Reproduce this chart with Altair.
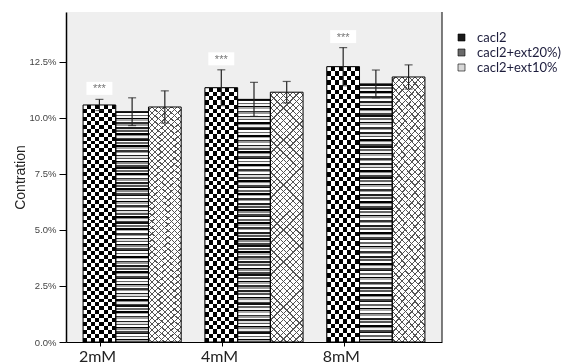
import altair as alt
import pandas as pd

# ---------------- data ----------------
groups = ["2mM", "4mM", "8mM"]
series = ["cacl2", "cacl2+ext20%)", "cacl2+ext10%"]
cacl2_vals = [10.58, 11.35, 12.29]
cacl2_err = [0.25, 0.80, 0.85]
ext20_vals = [10.28, 10.83, 11.52]
ext20_err = [0.62, 0.76, 0.62]
ext10_vals = [10.49, 11.15, 11.83]
ext10_err = [0.72, 0.48, 0.54]
star_labels = ["***", "***", "***"]
y_ticks = [0, 2.5, 5, 7.5, 10, 12.5]

rows = []
for s, vals, errs in zip(series, [cacl2_vals, ext20_vals, ext10_vals],
                         [cacl2_err, ext20_err, ext10_err]):
    for g, v, e in zip(groups, vals, errs):
        rows.append({"dose": g, "series": s, "value": v, "lo": v - e, "hi": v + e})
df = pd.DataFrame(rows)
stars = pd.DataFrame({
    "dose": groups,
    "series": [series[0]] * 3,
    "hi": [v + e for v, e in zip(cacl2_vals, cacl2_err)],
    "label": star_labels,
})

# ---------------- pattern fills (gradients) ----------------
CLEAR = "rgba(255,255,255,0)"

def band_stops(colors, n):
    st = []
    for i in range(n):
        c = colors[i % len(colors)]
        st.append(alt.GradientStop(offset=i / n, color=c))
        st.append(alt.GradientStop(offset=(i + 1) / n, color=c))
    return st

# checkerboard = vertical stripes XOR horizontal stripes (difference blend)
grad_vert = alt.LinearGradient(gradient="linear", stops=band_stops(["black", "white"], 8),
                               x1=0, y1=0, x2=1, y2=0)
grad_horz_diff = alt.LinearGradient(gradient="linear", stops=band_stops(["white", CLEAR], 60),
                                    x1=0, y1=0, x2=0, y2=1)
# irregular thin horizontal lines
grad_lines = alt.LinearGradient(
    gradient="linear",
    stops=band_stops(["#111", "#fff", "#666", "#f4f4f4", "#000", "#aaa", "#fff", "#333",
                      "#999", "#fff", "#222", "#ddd", "#555", "#fff", "#000", "#888",
                      "#eee", "#444"], 150),
    x1=0, y1=0, x2=0, y2=1)

# diagonal lattice
w_b, h_b = 32.7, 250.0
s_k = (w_b + h_b) / (w_b ** 2 + h_b ** 2)
P = 44
e = 0.6 / (w_b + h_b)

def diag_stops(color):
    st = [alt.GradientStop(offset=0, color=CLEAR)]
    for k in range(P):
        c = (k + 0.5) / P
        st += [alt.GradientStop(offset=c - e, color=CLEAR),
               alt.GradientStop(offset=c - e, color=color),
               alt.GradientStop(offset=c + e, color=color),
               alt.GradientStop(offset=c + e, color=CLEAR)]
    st.append(alt.GradientStop(offset=1, color=CLEAR))
    return st

grad_d1 = alt.LinearGradient(gradient="linear", stops=diag_stops("#555"),
                             x1=0, y1=1, x2=s_k * w_b, y2=1 - s_k * h_b)
grad_d2 = alt.LinearGradient(gradient="linear", stops=diag_stops("#555"),
                             x1=0, y1=0, x2=s_k * w_b, y2=s_k * h_b)

# ---------------- encodings ----------------
x_enc = alt.X("dose:N",
              scale=alt.Scale(domain=groups, paddingInner=0.195, paddingOuter=0.14),
              axis=alt.Axis(title=None, labelAngle=0, tickOffset=-32, labelOffset=-3,
                            domainColor="black", domainWidth=1, tickColor="black",
                            tickSize=4, labelFont="Lato", labelFontSize=16,
                            labelColor="#222", labelPadding=2))
xo_enc = alt.XOffset("series:N", scale=alt.Scale(domain=series, paddingInner=0, paddingOuter=0))
y_scale = alt.Scale(domain=[0, 14.73], nice=False, zero=True)
y_enc = alt.Y("value:Q", scale=y_scale,
              axis=alt.Axis(values=y_ticks, labelExpr="format(datum.value, '.1f') + '%'",
                            grid=False, domainColor="black", domainWidth=1.5,
                            tickColor="black", tickSize=7, labelFont="Liberation Sans",
                            labelFontSize=9.5, labelColor="#444", labelPadding=3,
                            title="Contration", titleFont="Liberation Sans",
                            titleFontSize=14, titleFontWeight="normal",
                            titleColor="#222", titlePadding=2))

base = alt.Chart(df)

legend_layer = base.mark_bar().encode(
    x=x_enc, xOffset=xo_enc, y=y_enc,
    color=alt.Color("series:N",
                    scale=alt.Scale(domain=series, range=["#1a1a1a", "#6a6a6a", "#d8d8d8"]),
                    legend=alt.Legend(orient="none", legendX=389, legendY=19, title=None,
                                      symbolType="square", symbolSize=49,
                                      symbolStrokeColor="black", symbolStrokeWidth=0.6,
                                      labelFont="Lato", labelFontSize=13,
                                      labelColor="#1c1c3c", rowPadding=1,
                                      labelOffset=9, padding=0, labelLimit=300,
                                      labelExpr="datum.label == 'cacl2' ? '\u00a0\u00a0\u00a0\u00a0cacl2' : datum.label")),
)

def series_bar(name, fill, **kw):
    return base.transform_filter(alt.datum.series == name).mark_bar(fill=fill, **kw).encode(
        x=x_enc, xOffset=xo_enc, y=y_enc)

checker_a = series_bar(series[0], grad_vert)
checker_b = series_bar(series[0], grad_horz_diff, blend="difference")
lines_bar = series_bar(series[1], grad_lines)
cross_w = series_bar(series[2], "white")
cross_1 = series_bar(series[2], grad_d1)
cross_2 = series_bar(series[2], grad_d2)

outline = base.mark_bar(fillOpacity=0, stroke="black", strokeWidth=1).encode(
    x=x_enc, xOffset=xo_enc, y=y_enc)

err_rule = base.mark_rule(color="#222", strokeWidth=1.2).encode(
    x=x_enc, xOffset=xo_enc, y=alt.Y("lo:Q", scale=y_scale), y2="hi:Q")
cap_hi = base.mark_tick(color="#222", thickness=1.2, size=8).encode(
    x=x_enc, xOffset=xo_enc, y=alt.Y("hi:Q", scale=y_scale))
cap_lo = base.mark_tick(color="#222", thickness=1.2, size=8).encode(
    x=x_enc, xOffset=xo_enc, y=alt.Y("lo:Q", scale=y_scale))

star_box = alt.Chart(stars).mark_point(shape="M-1,-0.5H1V0.5H-1Z", size=676, filled=True,
                                       color="white", opacity=1, strokeWidth=0,
                                       yOffset=-11).encode(
    x=x_enc, xOffset=xo_enc, y=alt.Y("hi:Q", scale=y_scale))
star_text = alt.Chart(stars).mark_text(fontSize=11, color="#777", yOffset=-10,
                                       baseline="middle", font="Liberation Sans").encode(
    x=x_enc, xOffset=xo_enc, y=alt.Y("hi:Q", scale=y_scale), text="label:N")

right_border = alt.Chart(pd.DataFrame({"a": [0]})).mark_rule(color="black", strokeWidth=1).encode(
    x=alt.value(376), y=alt.value(0), y2=alt.value(330))

chart = alt.layer(
    legend_layer, checker_a, checker_b, lines_bar, cross_w, cross_1, cross_2,
    outline, err_rule, cap_hi, cap_lo, star_box, star_text, right_border,
).properties(
    width=376, height=330,
    padding={"left": 66, "top": 12, "right": 132, "bottom": 22},
    autosize=alt.AutoSizeParams(type="none"),
    background="white",
).configure_view(fill="#efefef", stroke=None)

chart.save("out.html", embed_options={"renderer": "svg", "actions": False})
